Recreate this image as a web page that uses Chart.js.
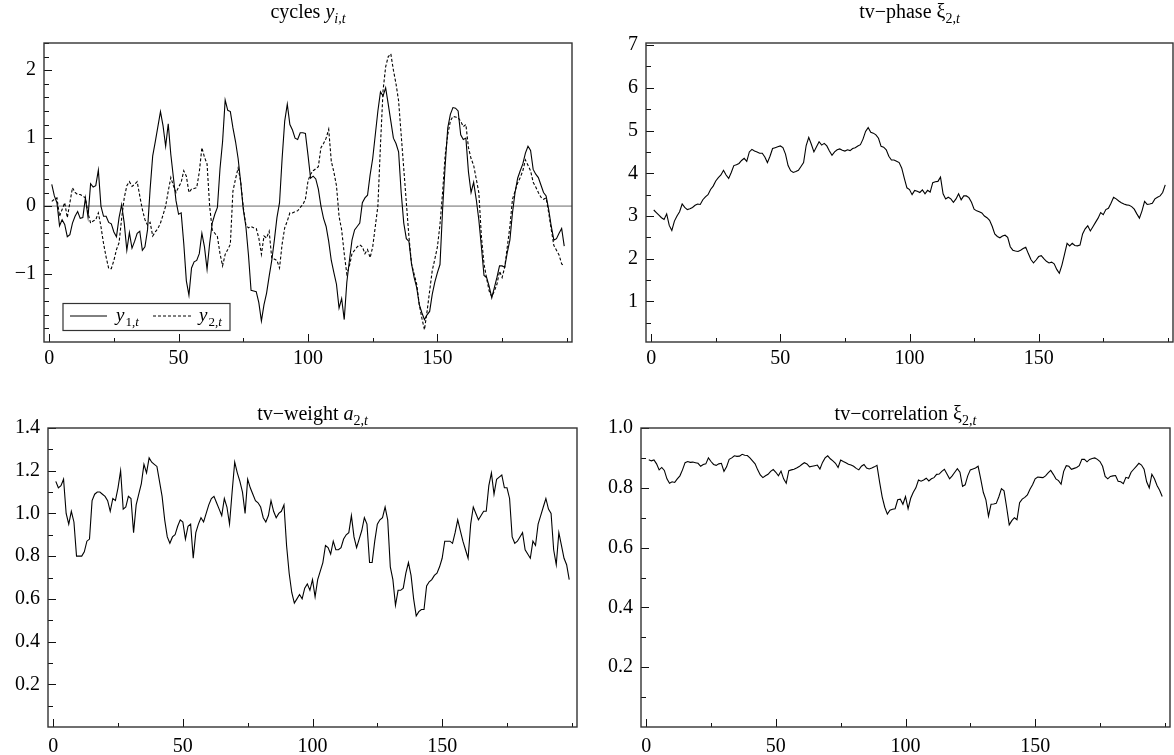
<!DOCTYPE html>
<html><head><meta charset="utf-8">
<script src="https://cdn.jsdelivr.net/npm/chart.js@4.4.1/dist/chart.umd.min.js"></script>
<style>
html,body{margin:0;padding:0;background:#fff;}
#wrap{position:relative;width:1174px;height:755px;overflow:hidden;}
canvas{position:absolute;}
</style></head><body>
<div id="wrap">
<canvas id="c1" width="587" height="378" style="left:0;top:0"></canvas>
<canvas id="c2" width="587" height="378" style="left:587px;top:0"></canvas>
<canvas id="c3" width="587" height="377" style="left:0;top:378px"></canvas>
<canvas id="c4" width="587" height="377" style="left:587px;top:378px"></canvas>
</div>
<script>
// ---------- ticks ----------
const xTicks = [0, 25, 50, 75, 100, 125, 150, 175, 200];
const xTickLabels = [0, 50, 100, 150];
const cyclesTicks = [-1.8,-1.6,-1.4,-1.2,-1,-0.8,-0.6,-0.4,-0.2,0,0.2,0.4,0.6,0.8,1,1.2,1.4,1.6,1.8,2,2.2,2.4];
const cyclesTickLabels = [-1, 0, 1, 2];
const phaseTicks = [0.5,1,1.5,2,2.5,3,3.5,4,4.5,5,5.5,6,6.5,7];
const phaseTickLabels = [1, 2, 3, 4, 5, 6, 7];
const weightTicks = [0.1,0.2,0.3,0.4,0.5,0.6,0.7,0.8,0.9,1.0,1.1,1.2,1.3,1.4];
const weightTickLabels = [0.2, 0.4, 0.6, 0.8, 1.0, 1.2, 1.4];
const corrTicks = [0.1,0.2,0.3,0.4,0.5,0.6,0.7,0.8,0.9,1.0];
const corrTickLabels = [0.2, 0.4, 0.6, 0.8, 1.0];

// ---------- data (t = 1..199) ----------
const y1 = [0.32,0.15,0.05,-0.29,-0.2,-0.27,-0.45,-0.42,-0.25,-0.15,
-0.08,-0.18,-0.17,0.12,-0.16,0.33,0.28,0.3,0.53,0.0,
-0.15,-0.15,-0.24,-0.26,-0.38,-0.45,-0.17,0.02,-0.25,-0.65,
-0.39,-0.62,-0.52,-0.4,-0.37,-0.65,-0.6,-0.35,0.25,0.74,
0.95,1.17,1.39,1.18,0.88,1.21,0.76,0.42,0.08,-0.12,
-0.1,-0.55,-1.1,-1.31,-0.91,-0.82,-0.8,-0.7,-0.4,-0.6,
-0.93,-0.55,-0.25,-0.12,-0.02,0.55,0.95,1.56,1.41,1.39,
1.15,0.95,0.7,0.35,-0.05,-0.3,-0.72,-1.24,-1.25,-1.26,
-1.42,-1.69,-1.45,-1.28,-1.03,-0.8,-0.5,-0.17,0.05,0.7,
1.25,1.5,1.2,1.12,1.0,0.98,1.08,1.08,1.07,0.75,
0.41,0.44,0.4,0.25,0.0,-0.18,-0.3,-0.52,-0.8,-0.98,
-1.15,-1.5,-1.36,-1.67,-1.12,-0.8,-0.5,-0.35,-0.3,-0.25,
0.05,0.12,0.16,0.46,0.7,1.05,1.4,1.68,1.62,1.74,
1.5,1.25,1.0,0.92,0.8,0.2,-0.25,-0.48,-0.52,-0.85,
-1.05,-1.2,-1.45,-1.57,-1.67,-1.6,-1.55,-1.3,-1.12,-0.98,
-0.86,-0.05,0.6,1.15,1.35,1.45,1.44,1.4,1.05,0.98,
1.0,0.5,0.2,0.35,0.1,-0.2,-0.6,-1.02,-1.05,-1.18,
-1.35,-1.2,-1.05,-0.88,-0.88,-0.9,-0.68,-0.5,-0.1,0.2,
0.41,0.52,0.62,0.78,0.88,0.82,0.54,0.47,0.42,0.31,
0.2,0.15,-0.05,-0.3,-0.5,-0.48,-0.4,-0.33,-0.59];

const y2 = [0.07,0.1,0.12,-0.15,-0.05,0.05,-0.17,0.05,0.27,0.2,
0.17,0.17,0.15,0.12,-0.1,-0.25,-0.22,-0.2,-0.1,-0.3,
-0.55,-0.75,-0.92,-0.92,-0.8,-0.64,-0.54,-0.18,0.12,0.3,
0.36,0.29,0.32,0.36,0.15,-0.05,-0.2,-0.28,-0.24,-0.44,
-0.38,-0.33,-0.25,-0.13,0.0,0.22,0.42,0.3,0.2,0.28,
0.35,0.52,0.44,0.2,0.25,0.26,0.27,0.5,0.86,0.72,
0.62,0.0,-0.35,-0.4,-0.45,-0.7,-0.88,-0.71,-0.64,-0.56,
0.22,0.4,0.56,0.36,-0.02,-0.28,-0.32,-0.3,-0.32,-0.33,
-0.47,-0.71,-0.44,-0.47,-0.37,-0.77,-0.78,-0.8,-0.91,-0.56,
-0.32,-0.22,-0.1,-0.1,-0.08,-0.07,-0.02,0.02,0.1,0.37,
0.47,0.52,0.55,0.58,0.86,0.92,1.0,1.13,0.66,0.5,
0.3,-0.15,-0.35,-0.7,-1.0,-0.88,-0.7,-0.65,-0.6,-0.57,
-0.6,-0.7,-0.64,-0.76,-0.6,-0.3,0.0,0.9,1.7,2.05,
2.2,2.24,2.0,1.8,1.55,1.05,0.55,0.05,-0.45,-0.85,
-1.0,-1.15,-1.45,-1.65,-1.82,-1.55,-1.25,-0.95,-0.78,-0.6,
-0.27,0.2,0.75,1.05,1.25,1.32,1.31,1.3,1.25,1.17,
1.2,0.86,0.7,0.6,0.4,0.2,-0.45,-0.85,-1.06,-1.25,
-1.33,-1.25,-1.15,-0.96,-1.05,-0.9,-0.6,-0.3,0.1,0.22,
0.34,0.42,0.52,0.68,0.6,0.52,0.35,0.28,0.2,0.13,
0.1,0.12,-0.1,-0.35,-0.58,-0.65,-0.72,-0.85,-0.88];

const phase = [3.14,3.08,3.02,2.96,2.92,3.05,2.78,2.66,2.88,3.0,
3.1,3.28,3.2,3.15,3.17,3.2,3.25,3.28,3.27,3.38,
3.45,3.5,3.62,3.7,3.82,3.9,3.96,4.07,3.96,3.88,
4.02,4.18,4.2,4.23,4.3,4.35,4.28,4.5,4.56,4.52,
4.5,4.47,4.47,4.38,4.25,4.4,4.58,4.6,4.62,4.64,
4.6,4.45,4.18,4.06,4.02,4.04,4.07,4.16,4.25,4.65,
4.84,4.68,4.5,4.62,4.74,4.66,4.7,4.64,4.52,4.42,
4.5,4.55,4.57,4.54,4.52,4.55,4.53,4.58,4.6,4.64,
4.67,4.8,4.98,5.07,4.96,4.94,4.9,4.82,4.63,4.61,
4.55,4.4,4.31,4.31,4.28,4.25,4.12,3.88,3.66,3.62,
3.5,3.6,3.58,3.55,3.61,3.52,3.6,3.56,3.78,3.8,
3.81,3.91,3.52,3.4,3.44,3.4,3.32,3.4,3.52,3.38,
3.47,3.47,3.43,3.32,3.16,3.12,3.1,3.07,3.0,2.96,
2.9,2.76,2.58,2.52,2.49,2.53,2.55,2.5,2.28,2.2,
2.18,2.17,2.2,2.24,2.27,2.12,1.98,1.9,1.97,2.05,
2.07,2.0,1.94,1.9,1.92,1.88,1.75,1.66,1.85,2.1,
2.36,2.3,2.36,2.31,2.3,2.32,2.58,2.7,2.77,2.65,
2.75,2.85,2.95,3.08,3.03,3.15,3.18,3.3,3.44,3.4,
3.35,3.31,3.28,3.26,3.25,3.22,3.16,3.05,2.95,3.12,
3.34,3.27,3.28,3.3,3.4,3.44,3.47,3.55,3.73];

const weight = [1.15,1.12,1.13,1.16,1.0,0.95,1.01,0.96,0.8,0.8,
0.8,0.82,0.87,0.88,1.06,1.09,1.1,1.1,1.09,1.08,
1.06,1.01,1.07,1.06,1.12,1.2,1.02,1.03,1.08,1.07,
0.91,1.04,1.09,1.14,1.23,1.19,1.26,1.24,1.23,1.22,
1.15,1.08,0.97,0.89,0.86,0.89,0.9,0.94,0.97,0.96,
0.88,0.94,0.95,0.79,0.91,0.95,0.98,0.96,1.0,1.04,
1.07,1.08,1.05,1.02,0.99,1.07,1.03,0.95,1.1,1.24,
1.19,1.15,1.1,1.0,1.16,1.12,1.09,1.06,1.05,1.03,
0.98,0.96,0.99,1.06,1.01,0.98,1.0,1.01,1.04,0.85,
0.72,0.63,0.58,0.6,0.62,0.6,0.65,0.67,0.64,0.69,
0.61,0.69,0.73,0.77,0.85,0.84,0.81,0.87,0.83,0.83,
0.84,0.88,0.9,0.91,0.99,0.89,0.84,0.88,0.92,0.98,
0.95,0.77,0.77,0.87,0.95,0.97,0.98,1.03,0.97,0.75,
0.69,0.57,0.64,0.64,0.65,0.72,0.77,0.71,0.6,0.52,
0.54,0.55,0.55,0.66,0.68,0.69,0.71,0.72,0.75,0.79,
0.87,0.87,0.87,0.86,0.91,0.97,0.92,0.87,0.83,0.79,
0.95,1.03,1.0,0.97,0.99,1.01,1.01,1.13,1.19,1.09,
1.16,1.17,1.18,1.12,1.12,1.07,0.89,0.86,0.87,0.89,
0.91,0.83,0.81,0.79,0.87,0.85,0.95,0.99,1.03,1.07,
1.02,1.0,0.83,0.76,0.91,0.85,0.79,0.76,0.69];

const corr = [0.894,0.89,0.893,0.88,0.86,0.868,0.858,0.83,0.815,0.82,
0.818,0.83,0.84,0.86,0.884,0.888,0.885,0.886,0.884,0.882,
0.872,0.878,0.88,0.9,0.888,0.878,0.875,0.88,0.882,0.855,
0.87,0.895,0.9,0.907,0.905,0.906,0.912,0.909,0.908,0.9,
0.89,0.88,0.86,0.843,0.834,0.84,0.845,0.855,0.861,0.852,
0.84,0.856,0.83,0.815,0.857,0.86,0.862,0.866,0.871,0.878,
0.884,0.88,0.87,0.872,0.874,0.876,0.863,0.885,0.9,0.907,
0.897,0.89,0.882,0.868,0.893,0.888,0.884,0.879,0.876,0.872,
0.865,0.86,0.872,0.878,0.866,0.863,0.866,0.87,0.875,0.82,
0.77,0.735,0.712,0.725,0.728,0.73,0.76,0.762,0.745,0.771,
0.73,0.765,0.785,0.8,0.826,0.822,0.826,0.832,0.823,0.83,
0.834,0.845,0.846,0.855,0.862,0.846,0.83,0.84,0.852,0.864,
0.852,0.805,0.81,0.84,0.86,0.863,0.866,0.872,0.83,0.785,
0.76,0.705,0.745,0.746,0.748,0.77,0.797,0.79,0.735,0.676,
0.69,0.7,0.693,0.75,0.762,0.768,0.776,0.795,0.81,0.83,
0.836,0.835,0.834,0.84,0.85,0.858,0.845,0.83,0.824,0.812,
0.855,0.874,0.872,0.862,0.865,0.868,0.874,0.895,0.895,0.887,
0.895,0.898,0.9,0.895,0.888,0.872,0.838,0.83,0.838,0.84,
0.841,0.822,0.82,0.814,0.835,0.832,0.852,0.862,0.872,0.882,
0.876,0.862,0.82,0.8,0.845,0.83,0.808,0.792,0.771];

// ---------- helpers ----------
const SERIF = '"Liberation Serif", "DejaVu Serif", serif';
const toXY = arr => arr.map((v, i) => ({x: i + 1, y: v}));
const near = (a, b) => Math.abs(a - b) < 1e-6;

const deco = {
  id: 'deco',
  beforeDatasetsDraw(chart, args, o) {
    if (!o.zeroLine) return;
    const ctx = chart.ctx, a = chart.chartArea, y = chart.scales.y.getPixelForValue(0);
    ctx.save(); ctx.strokeStyle = '#a9a9a9'; ctx.lineWidth = 1.6;
    ctx.beginPath(); ctx.moveTo(a.left, y); ctx.lineTo(a.right, y); ctx.stroke(); ctx.restore();
  },
  afterDraw(chart, args, o) {
    const ctx = chart.ctx, a = chart.chartArea;
    ctx.save();
    ctx.strokeStyle = '#111'; ctx.lineWidth = 1;
    const xs = chart.scales.x, ys = chart.scales.y;
    xs.ticks.forEach(tk => {
      const px = Math.round(xs.getPixelForValue(tk.value)) + 0.5;
      const L = xTickLabels.some(m => near(m, tk.value)) ? 8 : 4;
      ctx.beginPath(); ctx.moveTo(px, a.bottom); ctx.lineTo(px, a.bottom - L); ctx.stroke();
    });
    ys.ticks.forEach(tk => {
      const py = Math.round(ys.getPixelForValue(tk.value)) + 0.5;
      const L = o.yMajor.some(m => near(m, tk.value)) ? 8 : 5;
      ctx.beginPath(); ctx.moveTo(a.left, py); ctx.lineTo(a.left + L, py); ctx.stroke();
    });
    ctx.strokeStyle = '#333'; ctx.lineWidth = 1.4;
    ctx.strokeRect(a.left, a.top, a.right - a.left, a.bottom - a.top);
    // title (mixed fonts, with subscript)
    ctx.fillStyle = '#000'; ctx.textBaseline = 'alphabetic'; ctx.textAlign = 'left';
    let w = 0;
    o.title.forEach(s => { ctx.font = s.f; w += ctx.measureText(s.t).width; });
    let x = (a.left + a.right) / 2 - w / 2;
    const base = a.top - o.titleGap;
    o.title.forEach(s => { ctx.font = s.f; ctx.fillText(s.t, x, base + (s.dy || 0)); x += ctx.measureText(s.t).width; });
    // legend
    if (o.legend) {
      const lx = a.left + 19, ly = a.bottom - 38.5, lw = 167, lh = 27;
      ctx.fillStyle = '#fff'; ctx.fillRect(lx, ly, lw, lh);
      ctx.strokeStyle = '#333'; ctx.lineWidth = 1.2; ctx.strokeRect(lx, ly, lw, lh);
      const my = ly + 12.5;
      ctx.strokeStyle = '#000'; ctx.lineWidth = 1;
      ctx.beginPath(); ctx.moveTo(lx + 7, my); ctx.lineTo(lx + 44, my); ctx.stroke();
      ctx.setLineDash([3, 2]);
      ctx.beginPath(); ctx.moveTo(lx + 90, my); ctx.lineTo(lx + 129, my); ctx.stroke();
      ctx.setLineDash([]);
      ctx.fillStyle = '#000';
      const drawLab = (x0, s) => {
        ctx.font = 'italic 19px ' + SERIF; ctx.fillText('y', x0, my + 5);
        let xx = x0 + ctx.measureText('y').width + 1;
        ctx.font = '13px ' + SERIF; ctx.fillText(s + ',', xx, my + 10);
        xx += ctx.measureText(s + ',').width;
        ctx.font = 'italic 13px ' + SERIF; ctx.fillText('t', xx, my + 10);
      };
      drawLab(lx + 53, '1');
      drawLab(lx + 136, '2');
    }
    ctx.restore();
  }
};

function xAxis(h, pad) {
  return {
    type: 'linear', min: -2, max: 202,
    grid: {display: false, drawTicks: false}, border: {display: false},
    afterBuildTicks: s => { s.ticks = xTicks.map(v => ({value: v})); },
    ticks: {autoSkip: false, maxRotation: 0, padding: pad,
      color: '#000', font: {family: SERIF, size: 20},
      callback: v => xTickLabels.some(m => near(m, v)) ? String(Math.round(v)) : ''},
    afterFit: s => { s.height = h; }
  };
}
function yAxis(min, max, tickArr, labels, fmt, w) {
  return {
    type: 'linear', min, max,
    grid: {display: false, drawTicks: false}, border: {display: false},
    afterBuildTicks: s => { s.ticks = tickArr.map(v => ({value: v})); },
    ticks: {autoSkip: false, padding: 8,
      color: '#000', font: {family: SERIF, size: 20},
      callback: v => labels.some(m => near(m, v)) ? fmt(v) : ''},
    afterFit: s => { s.width = w; }
  };
}
function lineDs(arr, dash) {
  return {data: toXY(arr), borderColor: '#000', borderWidth: 1.1, pointRadius: 0,
    tension: 0, fill: false, borderDash: dash || [], parsing: false};
}
function make(id, datasets, pad, x, y, decoOpts) {
  return new Chart(document.getElementById(id), {
    type: 'line',
    data: {datasets},
    options: {
      responsive: false, animation: false, devicePixelRatio: 1,
      layout: {padding: pad},
      plugins: {legend: {display: false}, tooltip: {enabled: false}, title: {display: false}, deco: decoOpts},
      scales: {x, y}
    },
    plugins: [deco]
  });
}

const minus = v => (v < 0 ? '\u2212' : '') + Math.abs(Math.round(v));
const T20 = '20px ' + SERIF, I20 = 'italic 20px ' + SERIF, S14 = '14px ' + SERIF, I14 = 'italic 14px ' + SERIF;

make('c1', [lineDs(y1), lineDs(y2, [3, 2])],
  {top: 43, right: 15, left: 0, bottom: 0},
  xAxis(36, 5), yAxis(-2.0, 2.4, cyclesTicks, cyclesTickLabels, minus, 44),
  {zeroLine: true, legend: true, yMajor: cyclesTickLabels, titleGap: 25.5,
   title: [{t: 'cycles ', f: T20}, {t: 'y', f: I20}, {t: 'i,t', f: I14, dy: 5}]});

make('c2', [lineDs(phase)],
  {top: 43, right: 1, left: 0, bottom: 0},
  xAxis(36, 5), yAxis(0.05, 7.05, phaseTicks, phaseTickLabels, v => String(Math.round(v)), 59),
  {yMajor: phaseTickLabels, titleGap: 25.5,
   title: [{t: 'tv\u2212phase ', f: T20}, {t: '\u03BE', f: T20}, {t: '2,', f: S14, dy: 5}, {t: 't', f: I14, dy: 5}]});

make('c3', [lineDs(weight)],
  {top: 50, right: 10, left: 0, bottom: 0},
  xAxis(28, 8), yAxis(0, 1.4, weightTicks, weightTickLabels, v => v.toFixed(1), 48),
  {yMajor: weightTickLabels, titleGap: 8.5,
   title: [{t: 'tv\u2212weight ', f: T20}, {t: 'a', f: I20}, {t: '2,', f: S14, dy: 5}, {t: 't', f: I14, dy: 5}]});

make('c4', [lineDs(corr)],
  {top: 50, right: 4, left: 0, bottom: 0},
  xAxis(28, 8), yAxis(0, 1.0, corrTicks, corrTickLabels, v => v.toFixed(1), 54),
  {yMajor: corrTickLabels, titleGap: 8.5,
   title: [{t: 'tv\u2212correlation ', f: T20}, {t: '\u03BE', f: T20}, {t: '2,', f: S14, dy: 5}, {t: 't', f: I14, dy: 5}]});
</script>
</body></html>
